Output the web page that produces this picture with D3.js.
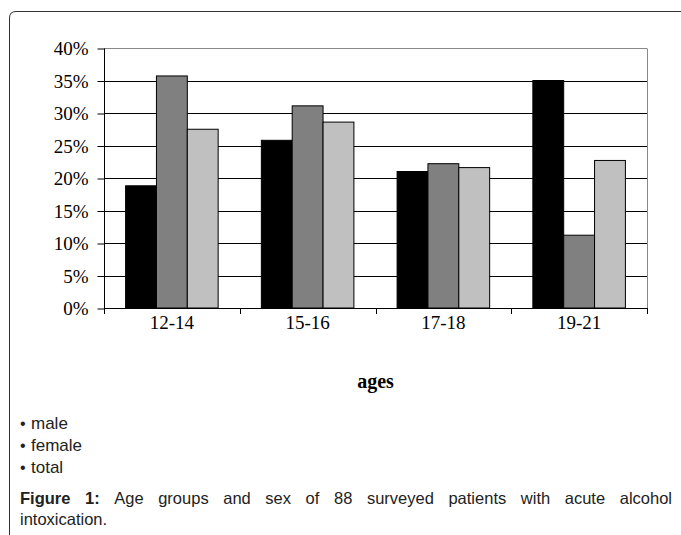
<!DOCTYPE html>
<html>
<head>
<meta charset="utf-8">
<script src="https://cdn.jsdelivr.net/npm/d3@7/dist/d3.min.js"></script>
<style>
  html, body { margin: 0; padding: 0; background: #fff; }
  svg { display: block; }
</style>
</head>
<body>
<script>
const categories = ["12-14", "15-16", "17-18", "19-21"];
const seriesNames = ["male", "female", "total"];
const male = [18.8, 25.8, 21.0, 35.0];
const female = [35.7, 31.1, 22.2, 11.2];
const total = [27.5, 28.6, 21.6, 22.7];
const yTicks = [0, 5, 10, 15, 20, 25, 30, 35, 40];
const xTitle = "ages";
const captionBold = "Figure 1:";
const captionText = "Age groups and sex of 88 surveyed patients with acute alcohol intoxication.";

const colors = { male: "#000000", female: "#808080", total: "#c0c0c0" };
const seriesValues = { male, female, total };

const W = 681, H = 535;
const svg = d3.select("body").append("svg").attr("width", W).attr("height", H);

// outer frame (rounded top-left corner)
svg.append("path")
  .attr("d", "M9.5,535 L9.5,18 Q9.5,11.5 16,11.5 L681,11.5")
  .attr("fill", "none").attr("stroke", "#333").attr("stroke-width", 1);

const plot = { left: 104, right: 647, top: 48, bottom: 308 };

const x = d3.scaleBand().domain(categories).range([plot.left, plot.right]).paddingInner(0).paddingOuter(0);
const x1 = d3.scaleBand().domain(seriesNames).range([0, x.bandwidth()]).paddingInner(0).paddingOuter(0.7);
const y = d3.scaleLinear().domain([0, 40]).range([plot.bottom, plot.top]);

// gridlines
svg.append("g").selectAll("line").data(yTicks.filter(d => d > 0)).join("line")
  .attr("x1", plot.left).attr("x2", plot.right)
  .attr("y1", d => Math.round(y(d)) + 0.5).attr("y2", d => Math.round(y(d)) + 0.5)
  .attr("stroke", d => d === 40 ? "#888" : "#000").attr("stroke-width", 1);

// right border of plot
svg.append("line")
  .attr("x1", plot.right + 0.5).attr("x2", plot.right + 0.5)
  .attr("y1", Math.round(y(40)) + 0.5).attr("y2", plot.bottom)
  .attr("stroke", "#888");

// bars
const groups = svg.append("g").selectAll("g").data(categories).join("g")
  .attr("transform", d => `translate(${x(d)},0)`);
groups.selectAll("rect").data((c, i) => seriesNames.map(s => ({ s, v: seriesValues[s][i] }))).join("rect")
  .attr("x", d => x1(d.s))
  .attr("y", d => y(d.v))
  .attr("width", x1.bandwidth())
  .attr("height", d => y(0) - y(d.v))
  .attr("fill", d => colors[d.s])
  .attr("stroke", "#000").attr("stroke-width", 1);

// y axis
const yAxis = d3.axisLeft(y).tickValues(yTicks).tickFormat(d => d + "%").tickSize(7).tickPadding(9);
const ya = svg.append("g").attr("transform", `translate(${plot.left + 0.5},0.5)`).call(yAxis);
ya.select(".domain").attr("d", `M0,${y(40)}V${plot.bottom + 5}`).attr("stroke", "#000");
ya.selectAll(".tick line").attr("stroke", "#000");
ya.selectAll("text").attr("font-family", "'Liberation Serif', 'Times New Roman', serif").attr("font-size", 19).attr("fill", "#000");

// x axis
const xAxis = d3.axisBottom(x).tickSize(0).tickPadding(7);
const xa = svg.append("g").attr("transform", `translate(0,${plot.bottom + 0.5})`).call(xAxis);
xa.select(".domain").attr("d", `M${plot.left},0H${plot.right}`).attr("stroke", "#000");
xa.selectAll("text").attr("font-family", "'Liberation Serif', 'Times New Roman', serif").attr("font-size", 19).attr("fill", "#000");
// category boundary ticks
const bounds = categories.map(c => x(c)).concat([plot.right]);
svg.append("g").selectAll("line").data(bounds).join("line")
  .attr("x1", d => Math.round(d) + 0.5).attr("x2", d => Math.round(d) + 0.5)
  .attr("y1", plot.bottom).attr("y2", plot.bottom + 6)
  .attr("stroke", "#000");

// x title
svg.append("text").attr("x", (plot.left + plot.right) / 2).attr("y", 388)
  .attr("text-anchor", "middle")
  .attr("font-family", "'Liberation Serif', 'Times New Roman', serif")
  .attr("font-weight", "bold").attr("font-size", 20).text(xTitle);

// legend as bullet list
const legend = svg.append("g").selectAll("g").data(seriesNames).join("g")
  .attr("transform", (d, i) => `translate(0,${429 + i * 22})`);
legend.append("text").attr("x", 20)
  .attr("font-family", "'Liberation Sans', Arial, sans-serif").attr("font-size", 16)
  .attr("fill", "#222").text("\u2022");
legend.append("text").attr("x", 31)
  .attr("font-family", "'Liberation Sans', Arial, sans-serif").attr("font-size", 17)
  .attr("fill", "#222").text(d => d);

// caption, justified first line
const capFont = "'Liberation Sans', Arial, sans-serif";
const capLeft = 20, capRight = 672, capSize = 16.5;
const words = [{ t: "Figure", b: true }, { t: "1:", b: true }].concat(captionText.split(" ").map(t => ({ t, b: false })));
const measure = svg.append("text").attr("font-family", capFont).attr("font-size", capSize).attr("visibility", "hidden");
words.forEach(w => {
  measure.attr("font-weight", w.b ? "bold" : "normal").text(w.t);
  w.w = measure.node().getComputedTextLength();
});
measure.remove();
const line1 = words.slice(0, words.length - 1);
const line2 = words.slice(words.length - 1);
const sumW = d3.sum(line1, d => d.w);
const gap = (capRight - capLeft - sumW) / (line1.length - 1);
let cx = capLeft;
line1.forEach(w => { w.x = cx; w.y = 504; cx += w.w + gap; });
line2.forEach(w => { w.x = capLeft; w.y = 525; });
svg.append("g").selectAll("text").data(words).join("text")
  .attr("x", d => d.x).attr("y", d => d.y)
  .attr("font-family", capFont).attr("font-size", capSize)
  .attr("font-weight", d => d.b ? "bold" : "normal")
  .attr("fill", "#222")
  .text(d => d.t);
</script>
</body>
</html>
